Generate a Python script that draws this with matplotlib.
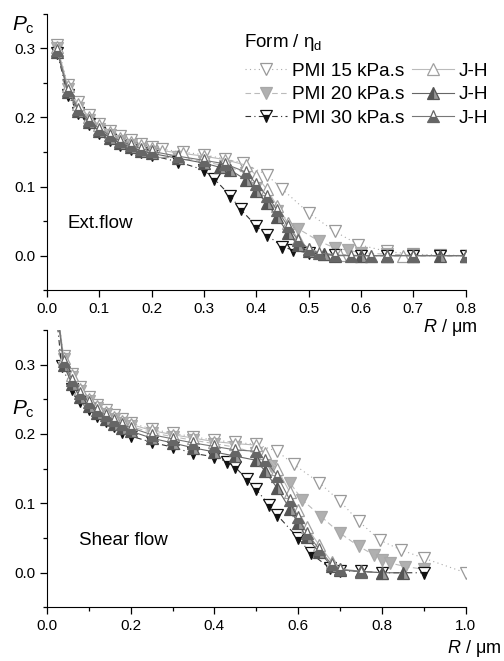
import matplotlib
matplotlib.use("Agg")
import matplotlib.pyplot as plt
from matplotlib.ticker import MultipleLocator, FormatStrFormatter

plt.rcParams['font.family'] = ['Liberation Sans', 'DejaVu Sans']
plt.rcParams['mathtext.fontset'] = 'custom'
plt.rcParams['mathtext.rm'] = 'Liberation Sans'
plt.rcParams['mathtext.it'] = 'Liberation Sans:italic'

# ---- Ext. flow (top panel) ----
ext_pmi15_x = [0.02, 0.04, 0.06, 0.08, 0.10, 0.12, 0.14, 0.16, 0.18, 0.20, 0.22, 0.26, 0.30, 0.34, 0.375,
               0.42, 0.45, 0.50, 0.55, 0.595, 0.65, 0.70, 0.75, 0.80]
ext_pmi15_y = [0.305, 0.247, 0.222, 0.204, 0.191, 0.181, 0.173, 0.167, 0.162, 0.158, 0.154, 0.150, 0.146, 0.140, 0.134,
               0.117, 0.096, 0.062, 0.035, 0.016, 0.006, 0.002, 0.001, 0.0]

ext_pmi20_x = [0.02, 0.04, 0.06, 0.08, 0.10, 0.12, 0.14, 0.16, 0.18, 0.20, 0.25, 0.30, 0.34, 0.38, 0.40,
               0.44, 0.48, 0.52, 0.55, 0.575, 0.60, 0.65, 0.70, 0.75, 0.80]
ext_pmi20_y = [0.300, 0.241, 0.214, 0.197, 0.184, 0.174, 0.166, 0.160, 0.155, 0.150, 0.143, 0.136, 0.130, 0.120, 0.100,
               0.064, 0.039, 0.021, 0.011, 0.008, 0.004, 0.002, 0.001, 0.0, 0.0]

ext_pmi30_x = [0.02, 0.04, 0.06, 0.08, 0.10, 0.12, 0.14, 0.16, 0.18, 0.20, 0.25, 0.30, 0.32, 0.35, 0.37,
               0.40, 0.42, 0.45, 0.47, 0.50, 0.55, 0.60, 0.65, 0.70, 0.75, 0.80]
ext_pmi30_y = [0.293, 0.233, 0.207, 0.190, 0.178, 0.168, 0.160, 0.155, 0.150, 0.145, 0.136, 0.124, 0.111, 0.087, 0.067,
               0.043, 0.030, 0.013, 0.008, 0.004, 0.001, 0.0, 0.0, 0.0, 0.0, 0.0]

ext_jh1_x = [0.02, 0.04, 0.06, 0.08, 0.10, 0.12, 0.14, 0.16, 0.18, 0.20, 0.22, 0.26, 0.30, 0.34, 0.38,
             0.40, 0.42, 0.44, 0.46, 0.48, 0.50, 0.53, 0.56, 0.60, 0.62, 0.65, 0.68, 0.70, 0.80]
ext_jh1_y = [0.302, 0.245, 0.219, 0.201, 0.189, 0.179, 0.171, 0.165, 0.160, 0.156, 0.152, 0.148, 0.144, 0.139, 0.131,
             0.116, 0.096, 0.072, 0.047, 0.024, 0.010, 0.003, 0.001, 0.0, 0.0, 0.0, 0.0, 0.0, 0.0]

ext_jh2_x = [0.02, 0.04, 0.06, 0.08, 0.10, 0.12, 0.14, 0.16, 0.18, 0.20, 0.25, 0.30, 0.33, 0.35, 0.38,
             0.40, 0.42, 0.44, 0.46, 0.48, 0.50, 0.53, 0.55, 0.60, 0.65, 0.70, 0.75, 0.80]
ext_jh2_y = [0.295, 0.237, 0.210, 0.193, 0.181, 0.171, 0.163, 0.157, 0.152, 0.148, 0.141, 0.134, 0.128, 0.124, 0.110,
             0.093, 0.076, 0.056, 0.033, 0.015, 0.007, 0.002, 0.0, 0.0, 0.0, 0.0, 0.0, 0.0]

ext_jh3_x = [0.02, 0.04, 0.06, 0.08, 0.10, 0.12, 0.14, 0.16, 0.18, 0.20, 0.25, 0.30, 0.34, 0.38,
             0.40, 0.42, 0.44, 0.46, 0.48, 0.50, 0.52, 0.55, 0.58, 0.62, 0.65, 0.70, 0.80]
ext_jh3_y = [0.298, 0.240, 0.213, 0.196, 0.184, 0.174, 0.166, 0.160, 0.155, 0.151, 0.144, 0.138, 0.133, 0.121,
             0.104, 0.087, 0.066, 0.043, 0.022, 0.010, 0.004, 0.001, 0.0, 0.0, 0.0, 0.0, 0.0]

# ---- Shear flow (bottom panel) ----
sh_pmi15_x = [0.01, 0.04, 0.06, 0.08, 0.10, 0.12, 0.14, 0.16, 0.18, 0.20, 0.25, 0.30, 0.35, 0.40, 0.45, 0.50,
              0.55, 0.59, 0.65, 0.70, 0.745, 0.795, 0.845, 0.90, 1.00]
sh_pmi15_y = [0.45, 0.312, 0.287, 0.267, 0.253, 0.242, 0.234, 0.227, 0.221, 0.216, 0.207, 0.201, 0.196, 0.191, 0.188, 0.185,
              0.175, 0.156, 0.130, 0.103, 0.074, 0.047, 0.033, 0.021, 0.0]

sh_pmi20_x = [0.01, 0.04, 0.06, 0.08, 0.10, 0.12, 0.14, 0.16, 0.18, 0.20, 0.25, 0.30, 0.35, 0.40, 0.45, 0.50,
              0.535, 0.58, 0.61, 0.655, 0.70, 0.745, 0.78, 0.80, 0.82, 0.855, 0.90]
sh_pmi20_y = [0.45, 0.308, 0.282, 0.262, 0.248, 0.237, 0.229, 0.222, 0.216, 0.211, 0.202, 0.196, 0.191, 0.186, 0.181, 0.172,
              0.154, 0.130, 0.105, 0.081, 0.057, 0.038, 0.026, 0.018, 0.014, 0.009, 0.005]

sh_pmi30_x = [0.01, 0.035, 0.06, 0.08, 0.10, 0.12, 0.14, 0.16, 0.18, 0.20, 0.25, 0.30, 0.35, 0.40, 0.43, 0.45,
              0.477, 0.50, 0.53, 0.55, 0.60, 0.63, 0.675, 0.70, 0.75, 0.80, 0.90]
sh_pmi30_y = [0.45, 0.298, 0.265, 0.248, 0.236, 0.226, 0.218, 0.211, 0.203, 0.197, 0.188, 0.181, 0.172, 0.167, 0.160, 0.152,
              0.135, 0.120, 0.098, 0.083, 0.050, 0.028, 0.007, 0.003, 0.002, 0.0, 0.0]

sh_jh1_x = [0.01, 0.04, 0.06, 0.08, 0.10, 0.12, 0.14, 0.16, 0.18, 0.20, 0.25, 0.30, 0.35, 0.40, 0.45, 0.50,
            0.52, 0.55, 0.58, 0.60, 0.62, 0.65, 0.68, 0.70, 0.75, 0.80]
sh_jh1_y = [0.45, 0.310, 0.285, 0.265, 0.251, 0.240, 0.232, 0.225, 0.219, 0.214, 0.205, 0.199, 0.194, 0.189, 0.186, 0.184,
            0.172, 0.150, 0.116, 0.090, 0.066, 0.040, 0.016, 0.006, 0.002, 0.0]

sh_jh2_x = [0.01, 0.04, 0.06, 0.08, 0.10, 0.12, 0.14, 0.16, 0.18, 0.20, 0.25, 0.30, 0.35, 0.40, 0.45, 0.50,
            0.52, 0.55, 0.58, 0.60, 0.62, 0.65, 0.68, 0.70, 0.75, 0.80, 0.85]
sh_jh2_y = [0.45, 0.300, 0.272, 0.253, 0.240, 0.230, 0.222, 0.215, 0.209, 0.204, 0.194, 0.187, 0.180, 0.174, 0.168, 0.162,
            0.147, 0.122, 0.092, 0.071, 0.051, 0.030, 0.010, 0.004, 0.002, 0.0, 0.0]

sh_jh3_x = [0.01, 0.04, 0.06, 0.08, 0.10, 0.12, 0.14, 0.16, 0.18, 0.20, 0.25, 0.30, 0.35, 0.40, 0.45, 0.50,
            0.52, 0.55, 0.58, 0.60, 0.62, 0.65, 0.68, 0.70, 0.75]
sh_jh3_y = [0.45, 0.305, 0.278, 0.259, 0.246, 0.235, 0.227, 0.220, 0.214, 0.209, 0.199, 0.193, 0.187, 0.182, 0.177, 0.175,
            0.163, 0.140, 0.105, 0.080, 0.058, 0.034, 0.012, 0.005, 0.001]

pmi_labels = ["PMI 15 kPa.s", "PMI 20 kPa.s", "PMI 30 kPa.s"]
jh_labels = ["J-H", "J-H", "J-H"]

styles = [
    dict(marker="v", ls=(0, (1, 3)), color="#aaaaaa", mfc="white", mec="#999999"),
    dict(marker="v", ls=(0, (5, 3)), color="#bbbbbb", mfc="#b0b0b0", mec="#a8a8a8"),
    dict(marker="v", ls=(0, (5, 3, 1, 3)), color="#333333", mfc="#111111", mec="#111111",
         fillstyle="bottom", markerfacecoloralt="white"),
    dict(marker="^", ls="-", color="#bbbbbb", mfc="white", mec="#a0a0a0"),
    dict(marker="^", ls="-", color="#666666", mfc="#555555", mec="#555555",
         fillstyle="left", markerfacecoloralt="#999999"),
    dict(marker="^", ls="-", color="#777777", mfc="#666666", mec="#666666",
         fillstyle="bottom", markerfacecoloralt="white"),
]

fig = plt.figure(figsize=(5.04, 6.61), dpi=100)
ax1 = fig.add_axes([0.093, 0.561, 0.831, 0.418])
ax2 = fig.add_axes([0.093, 0.081, 0.831, 0.420])

ext = [(ext_pmi15_x, ext_pmi15_y), (ext_pmi20_x, ext_pmi20_y), (ext_pmi30_x, ext_pmi30_y),
       (ext_jh1_x, ext_jh1_y), (ext_jh2_x, ext_jh2_y), (ext_jh3_x, ext_jh3_y)]
shear = [(sh_pmi15_x, sh_pmi15_y), (sh_pmi20_x, sh_pmi20_y), (sh_pmi30_x, sh_pmi30_y),
         (sh_jh1_x, sh_jh1_y), (sh_jh2_x, sh_jh2_y), (sh_jh3_x, sh_jh3_y)]
labels = pmi_labels + jh_labels

handles = []
for (x, y), st, lab in zip(ext, styles, labels):
    h, = ax1.plot(x, y, lw=0.8, ms=8, mew=0.9, label=lab, **st)
    handles.append(h)
for (x, y), st in zip(shear, styles):
    ax2.plot(x, y, lw=0.8, ms=8, mew=0.9, **st)

for ax in (ax1, ax2):
    ax.spines["top"].set_visible(False)
    ax.spines["right"].set_visible(False)
    ax.set_ylim(-0.05, 0.35)
    ax.set_yticks([0.0, 0.1, 0.2, 0.3])
    ax.yaxis.set_minor_locator(MultipleLocator(0.05))
    ax.yaxis.set_major_formatter(FormatStrFormatter("%.1f"))
    ax.xaxis.set_major_formatter(FormatStrFormatter("%.1f"))
    ax.tick_params(which="major", direction="out", length=5, width=0.9, labelsize=11)
    ax.tick_params(which="minor", direction="out", length=3, width=0.9)

ax1.set_xlim(0, 0.8)
ax1.xaxis.set_major_locator(MultipleLocator(0.1))

ax2.set_xlim(0, 1.0)
ax2.xaxis.set_major_locator(MultipleLocator(0.2))
ax2.xaxis.set_minor_locator(MultipleLocator(0.1))

ax1.text(0.05, 0.225, "Ext.flow", transform=ax1.transAxes, fontsize=13.5, va="baseline")
ax2.text(0.076, 0.224, "Shear flow", transform=ax2.transAxes, fontsize=13.5, va="baseline")

fig.text(0.024, 0.953, r"$\mathit{P}_{\mathrm{c}}$", fontsize=15)
fig.text(0.024, 0.373, r"$\mathit{P}_{\mathrm{c}}$", fontsize=15)
fig.text(0.946, 0.498, r"$\mathit{R}$ / μm", fontsize=13, ha="right")
fig.text(0.994, 0.012, r"$\mathit{R}$ / μm", fontsize=13, ha="right")

# legend title drawn separately so its spacing matches the reference
fig.text(0.484, 0.929, r"Form / η$_{\mathrm{d}}$", fontsize=13.5, va="baseline")
leg = ax1.legend(handles, labels, ncol=2, loc="upper left", bbox_to_anchor=(0.433, 0.886),
                 frameon=False, fontsize=13.7, numpoints=1, handlelength=2.2,
                 handletextpad=0.25, columnspacing=0.4, labelspacing=0.33)

fig.savefig("out.png", dpi=100)
